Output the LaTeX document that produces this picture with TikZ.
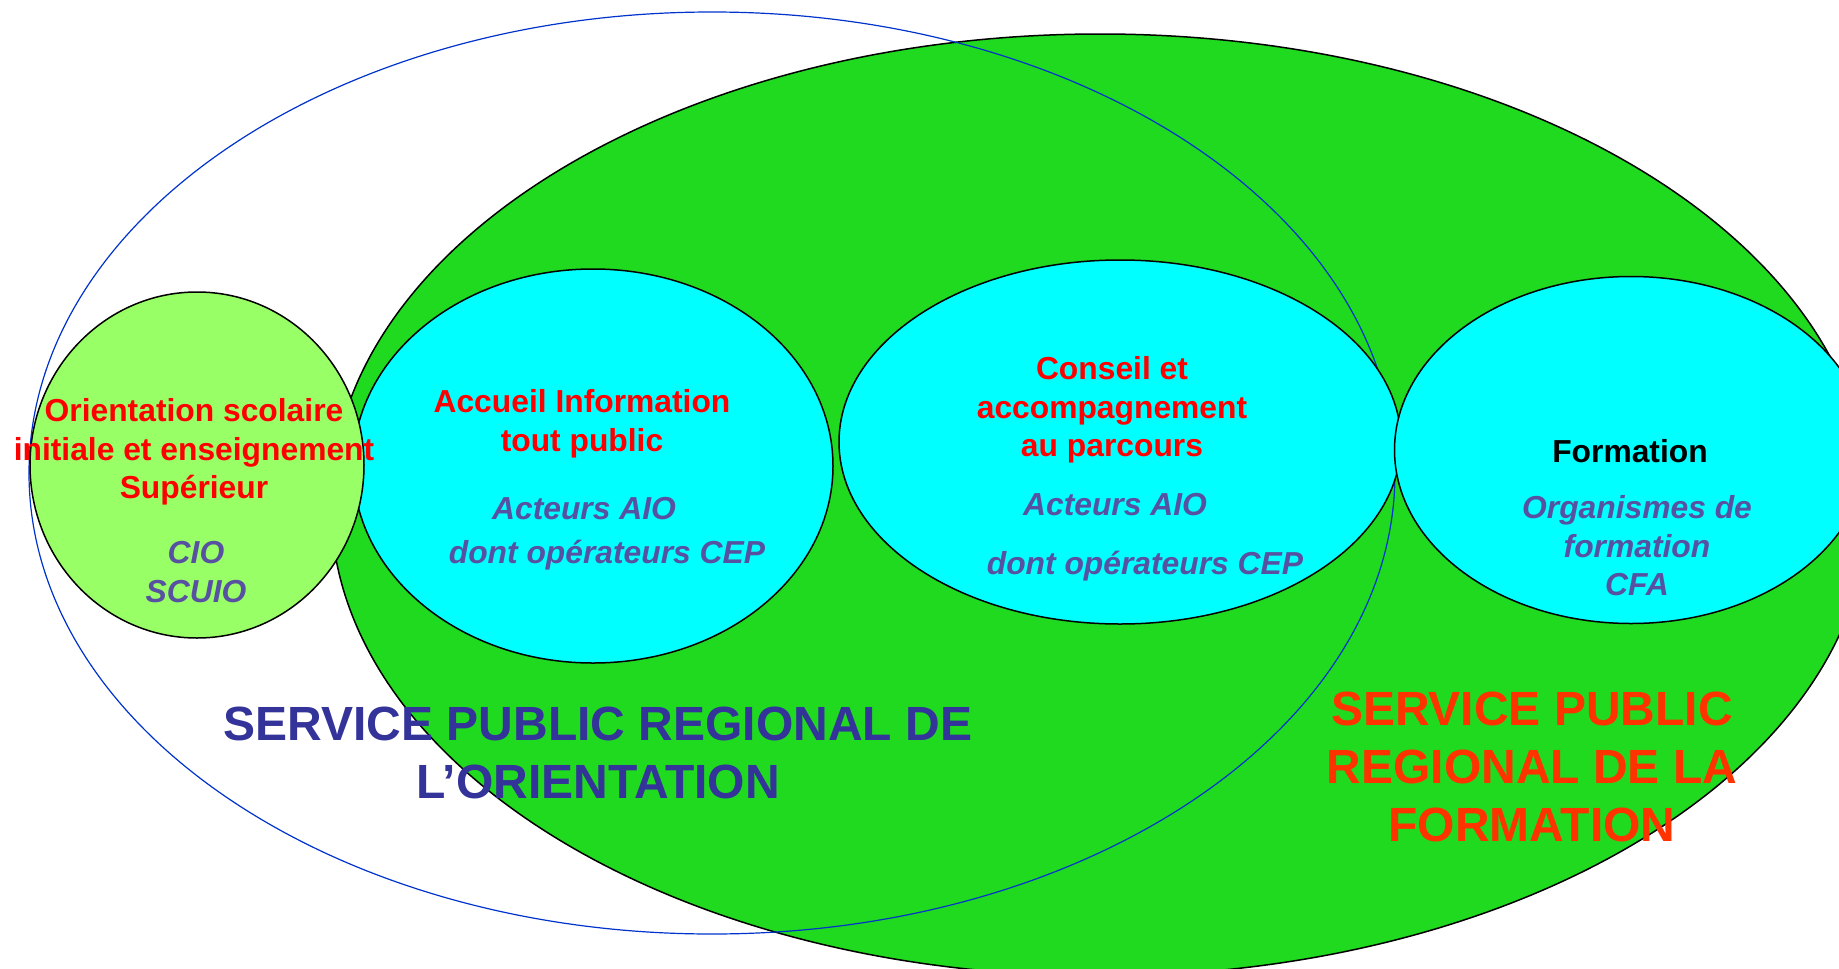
\documentclass[tikz,border=0pt]{standalone}
\usepackage{fontspec}
\setmainfont{Liberation Sans}
\usepackage{tikz}
\usetikzlibrary{shapes,shapes.geometric,positioning}

\definecolor{formGreen}{RGB}{31,218,31}
\definecolor{orientGreen}{RGB}{153,255,102}
\definecolor{poleCyan}{RGB}{0,255,255}
\definecolor{orientLine}{RGB}{0,51,204}
\definecolor{titleRed}{RGB}{255,0,0}
\definecolor{actorPurple}{RGB}{88,80,160}
\definecolor{serviceBlue}{RGB}{51,51,153}
\definecolor{serviceRed}{RGB}{255,51,0}

\begin{document}
\begin{tikzpicture}[x=1pt,y=-1pt]
  \tikzstyle{bubble}=[ellipse, draw, line width=1.5pt, inner sep=0pt]
  \tikzstyle{title}=[font=\fontsize{31.8}{38.5}\selectfont\bfseries, align=center, text=titleRed]
  \tikzstyle{actors}=[font=\fontsize{31.8}{38.5}\selectfont\bfseries\itshape, align=center, text=actorPurple]
  \tikzstyle{service}=[font=\fontsize{48}{58}\selectfont\bfseries, align=center]

  \useasboundingbox (0,0) rectangle (1839,969);

  % = the two public services =
  \node[bubble, fill=formGreen, minimum width=1538pt, minimum height=942pt] (formation) at (1100,505) {};
  \node[ellipse, draw=orientLine, line width=1.2pt, inner sep=0pt, minimum width=1366pt, minimum height=922pt] (orientation) at (712,473) {};

  % = the poles =
  \node[bubble, fill=poleCyan, minimum width=480pt, minimum height=394pt] (accueil) at (593,466) {};
  \node[bubble, fill=poleCyan, minimum width=562pt, minimum height=364pt] (conseil) at (1120,442) {};
  \node[bubble, fill=poleCyan, minimum width=473pt, minimum height=347pt] (training) at (1631,450) {};
  \node[bubble, fill=orientGreen, minimum width=334pt, minimum height=346pt] (scolaire) at (197,465) {};

  % school guidance
  \node[title] (scolairetitle) at (194,452) {Orientation scolaire\\initiale et enseignement\\Supérieur};
  \node[actors] (scolaireactors) at (196,572) {CIO\\SCUIO};

  % reception and information
  \node[title] (accueiltitle) at (582,424) {Accueil Information\\tout public};
  \node[actors] (accueilaio) at (584,509) {Acteurs AIO};
  \node[actors] (accueilcep) at (607,555) {dont opérateurs CEP};

  % advice and support
  \node[title] (conseiltitle) at (1112,410) {Conseil et\\accompagnement\\au parcours};
  \node[actors] (conseilaio) at (1115,505) {Acteurs AIO};
  \node[actors] (conseilcep) at (1145,566) {dont opérateurs CEP};

  % training
  \node[title, text=black] (trainingtitle) at (1630,451) {Formation};
  \node[actors] (trainingactors) at (1637,546) {Organismes de\\formation\\CFA};

  % = service names =
  \node[service, text=serviceBlue] (orientationname) at (598,753) {SERVICE PUBLIC REGIONAL DE\\L’ORIENTATION};
  \node[service, text=serviceRed] (formationname) at (1532,767) {SERVICE PUBLIC\\REGIONAL DE LA\\FORMATION};
\end{tikzpicture}
\end{document}
